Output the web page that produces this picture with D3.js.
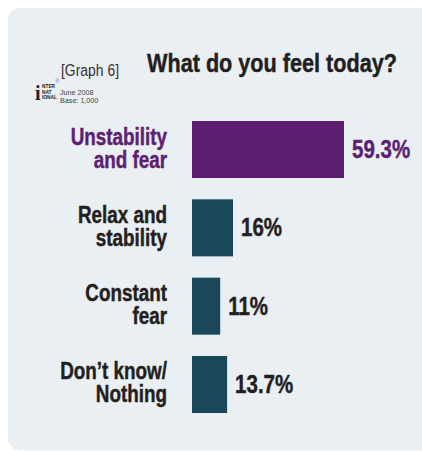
<!DOCTYPE html>
<html><head><meta charset="utf-8">
<script src="https://cdn.jsdelivr.net/npm/d3@7"></script>
<style>
html,body{margin:0;padding:0;background:#fff;}
svg{display:block;}
</style></head>
<body>
<script>
const categories = [["Unstability","and fear"],["Relax and","stability"],["Constant","fear"],["Don\u2019t know/","Nothing"]];
const values = [59.3, 16, 11, 13.7];
const valueLabels = ["59.3%","16%","11%","13.7%"];
const highlight = [true,false,false,false];
const titleText = "What do you feel today?";
const graphLabel = "[Graph 6]";
const sourceLines = ["June 2008","Base: 1,000"];
const logoLines = ["NTER","NAT","IONAL"];

const W = 422, H = 451;
const FONT = "'Liberation Sans',Arial,Helvetica,sans-serif";
const SQ = 0.82; // horizontal squeeze to imitate a condensed face
const PURPLE = "#5c1f72", TEAL = "#1b4858", DARK = "#231f20";

const svg = d3.select("body").append("svg").attr("width",W).attr("height",H);

function ctext(parent, x, y, str, opts){
  const g = parent.append("g").attr("transform",`translate(${x},${y}) scale(${SQ},1)`);
  const t = g.append("text").attr("x",0).attr("y",0).attr("font-family",FONT)
    .attr("font-size",opts.size).attr("font-weight",opts.weight||"normal")
    .attr("fill",opts.fill||DARK).attr("text-anchor",opts.anchor||"start").text(str);
  if (opts.weight === "bold") t.attr("stroke",opts.fill||DARK).attr("stroke-width",0.45);
  return t;
}

// panel
svg.append("rect").attr("x",8).attr("y",8).attr("width",W+20).attr("height",H-8.5)
  .attr("rx",12).attr("fill","#eaeff4");

// header
ctext(svg,147,72,titleText,{size:26.4,weight:"bold"});
ctext(svg,61,75.5,graphLabel,{size:17,fill:"#333"});
sourceLines.forEach((s,i)=>{
  svg.append("text").attr("x",60).attr("y",95+i*8).attr("font-family",FONT)
    .attr("font-size",7.2).attr("fill","#444").text(s);
});

// small logo
const logo = svg.append("g").attr("transform","translate(35,82)");
logo.append("text").attr("x",0).attr("y",18).attr("font-family","'Liberation Serif',serif")
  .attr("font-weight","bold").attr("font-size",20).attr("fill","#222").text("i");
logoLines.forEach((t,i)=>{
  logo.append("text").attr("x",7).attr("y",6+i*5.5).attr("font-family",FONT)
    .attr("font-weight","bold").attr("font-size",4.8).attr("fill","#222").text(t);
});
logo.append("text").attr("x",20).attr("y",1).attr("font-family",FONT)
  .attr("font-size",6).attr("fill","#888").text("\u00ae");

// scales
const y = d3.scaleBand().domain(d3.range(categories.length)).range([121,413]).paddingInner(0.272).paddingOuter(0);
const x = d3.scaleLinear().domain([0,100]).range([192,192+256.3]);

const g = svg.append("g");
g.selectAll("rect.bar").data(values).join("rect").attr("class","bar")
  .attr("x",x(0)).attr("y",(d,i)=>y(i)).attr("width",d=>x(d)-x(0)).attr("height",y.bandwidth())
  .attr("fill",(d,i)=>highlight[i]?PURPLE:TEAL);

values.forEach((d,i)=>{
  const c = y(i)+y.bandwidth()/2;
  ctext(g, x(d)+8, c+8.5, valueLabels[i], {size:25,weight:"bold",fill:highlight[i]?PURPLE:DARK});
  categories[i].forEach((line,j)=>{
    ctext(g, 167, c-5+j*23, line, {size:23,weight:"bold",anchor:"end",fill:highlight[i]?PURPLE:DARK});
  });
});
</script>
</body></html>
